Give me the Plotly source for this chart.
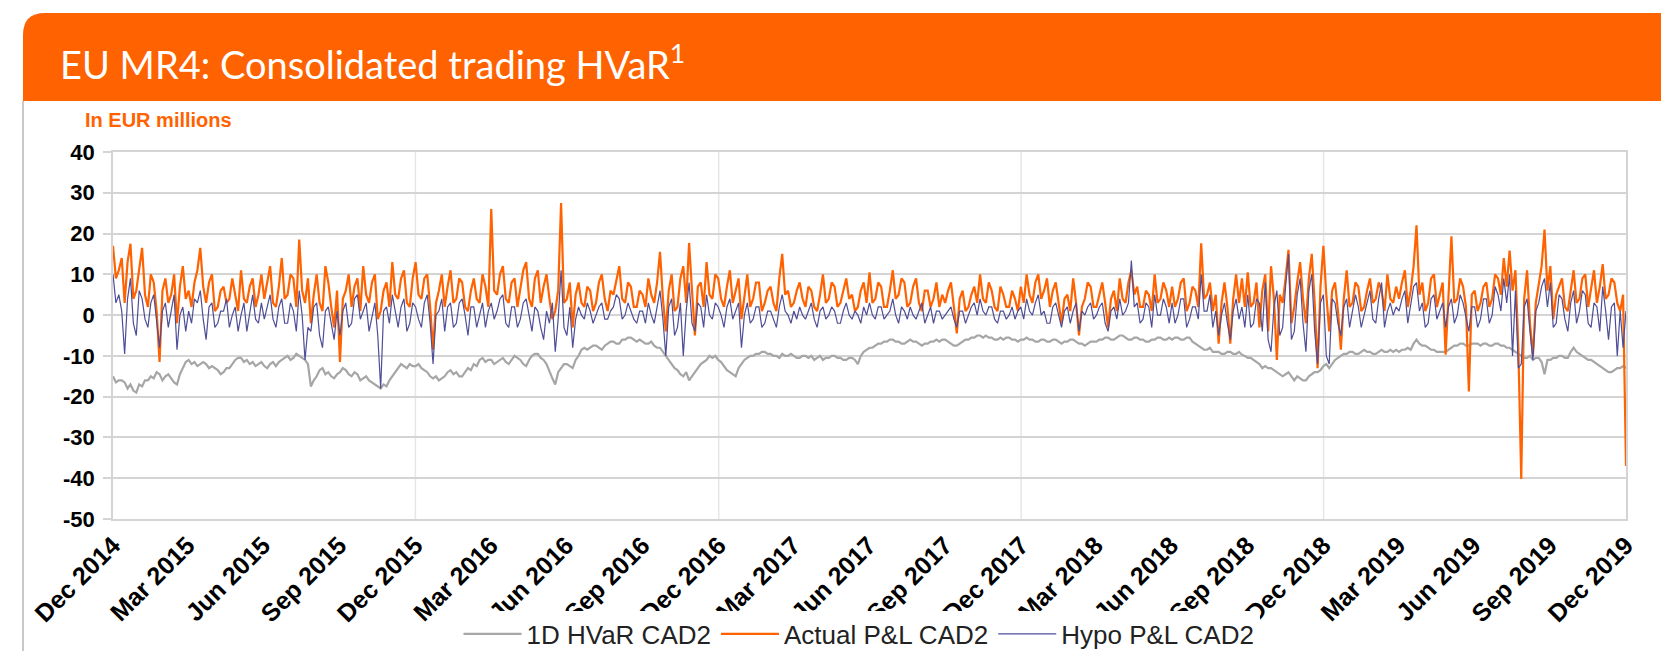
import plotly.graph_objects as go
import pandas as pd

# ---------------- data (twice-weekly readings, Dec 2014 - Dec 2019) ----------------
HVAR = [
    -15, -16.5, -16, -16, -16.5, -18, -17, -18.5, -19, -17, -17.5, -16, -16, -15, -15.5, -14, -14.5, -16, -15, -14.5, -15.5, -16.5, -17, -14.5, -13, -11.5,
    -11, -12, -11.5, -12.5, -12, -11.5, -12, -13, -12.5, -13, -13.5, -14.5, -14, -13, -13, -12, -11, -10.5, -10.5, -11.5, -11, -12, -11.5, -12.5, -12, -11.5,
    -12.5, -13, -12, -11.5, -12.5, -11.5, -11, -10.5, -10, -11, -10.5, -9.5, -10, -10.5, -11, -12, -17.5, -16, -15, -13.5, -13, -14.5, -14, -15, -15.5, -14.5,
    -14, -13, -13.5, -14.5, -15, -14, -14.5, -16, -15.5, -15, -16, -16.5, -17, -17.5, -18, -17, -17.5, -16, -15, -14, -13, -12, -12.5, -13, -12, -12.5,
    -12.5, -12, -13, -13.5, -14, -15, -15.5, -15, -16, -15.5, -15, -14, -13.5, -14.5, -14, -15, -15, -14, -13, -13.5, -12, -12.5, -11, -10.5, -11.5, -11,
    -11, -12, -11.5, -11, -10.5, -11.5, -12, -11, -10, -10.5, -11, -12, -12.5, -11, -10, -9.5, -9.5, -10.5, -11, -12, -14, -15.5, -17, -14, -13, -12,
    -12, -12.5, -13, -11, -10, -8.5, -8, -8.5, -8, -7.5, -7.5, -8, -8.5, -7.5, -7, -6.5, -6.5, -7, -7, -6, -6, -5.5, -5.5, -6, -6.5, -6,
    -6.5, -7, -7, -6.5, -7.5, -8, -8, -9, -10, -11, -12, -13, -13.5, -14.5, -15, -14, -16, -15, -14, -13, -12, -11.5, -11, -10, -10.5, -10,
    -11, -11.5, -12.5, -13.5, -14, -14.5, -15, -13, -12, -11, -10.5, -10, -10, -9.5, -9.5, -9, -9, -9.5, -9.5, -10, -10, -10.5, -9.5, -10, -10, -9.5,
    -10, -10.5, -10.5, -10, -10, -10.5, -10, -11, -10.5, -10, -11, -10.5, -10.5, -10, -10, -10.5, -10.5, -11, -11, -10.5, -10.5, -11, -12, -10, -9, -8.5,
    -8, -8, -7.5, -7, -7, -6.5, -6.5, -6, -6, -6.5, -6.5, -7, -7, -6.5, -6, -6.5, -6.5, -7, -7.5, -7, -7, -6.5, -6.5, -6, -6.5, -6,
    -6, -6.5, -7, -7.5, -7.5, -7, -6.5, -6, -6, -5.5, -5.5, -5, -5, -5.5, -5, -5.5, -5.5, -6, -6, -5.5, -6, -5.5, -5.5, -6, -6, -6.5,
    -6, -6, -5.5, -6, -6, -6.5, -6.5, -6, -6, -6.5, -6.5, -6, -6, -6.5, -7, -6.5, -6.5, -6, -6, -6.5, -7, -7, -7.5, -7, -6.5, -6.5,
    -6.5, -6, -6, -5.5, -5.5, -6, -6, -5.5, -5, -5, -5.5, -6, -6, -5.5, -5.5, -6, -6, -6.5, -6.5, -6, -6, -5.5, -5.5, -6, -6, -5.5,
    -6, -5.5, -5.5, -6, -6, -5.5, -5.5, -6.5, -7, -7.5, -8, -8.5, -8.5, -8, -9, -9, -9, -9.5, -9.5, -9, -9, -9.5, -9.5, -9, -9.7, -10,
    -10.5, -10.5, -11, -11.5, -12, -13, -12.5, -13, -13, -13.5, -14, -14.5, -15, -14.5, -14, -15, -16, -15, -15.5, -16, -16, -15, -14.5, -14, -14, -13.5,
    -12.5, -12, -13, -12, -11, -10.5, -10, -9.5, -9.5, -9, -9, -9.5, -9.5, -9, -8.5, -9, -9, -9.5, -9.5, -9, -8.5, -9, -9, -8.5, -9, -8.5,
    -9, -8.5, -8.5, -8, -8.5, -7, -6, -7, -7.5, -7.5, -8, -8.5, -8.5, -9, -9, -9, -9, -8.5, -8, -7.5, -7.5, -7, -7, -7.5, -7.5, -7,
    -7, -7, -7.5, -7, -7, -7.5, -7.5, -7, -7, -7.5, -7.5, -8, -8, -8.5, -9, -9.5, -10, -10.5, -10.5, -10, -11, -10.5, -10.5, -11.5, -14.5, -11,
    -11, -10.5, -10.5, -10, -10, -10.5, -10.5, -9, -8, -9, -9.5, -10, -10.5, -11, -11, -11.5, -12, -12.5, -13, -13.5, -14, -14, -13.5, -13, -13, -12.5,
    -13,
]

ACTUAL = [
    17, 9, 11, 14, 3, 13, 17.5, 4, 6, 12, 16.5, 5, 2, 10, 8, 1, -11.5, 6, 9, 3, 5, 10, -2, 7, 12, 4,
    6, 2, 8, 11, 16.5, 7, 3, 8, 10, 1, 2, 6, 7, 3, 4, 9, 5, 1, 11, 4, 3, 7, 9, 2, 5, 10,
    4, 8, 12, 3, 2, 7, 14, 4, 5, 10, 9, 2, 18.5, 6, 3, 9, -2, 5, 10, 3, 1, 12, 8, 2, -3, 6,
    -11.5, 4, 6, 10, 2, 7, 9, 1, 12, 5, 3, 8, 10, -1, 1, 6, 8, 2, 13, 5, 4, 9, 11, 3, 2, 9,
    13, 5, 4, 9, 10, 2, -8.5, 3, 6, 10, 2, 7, 11, 3, 4, 9, 8, 2, 1, 6, 9, 4, 3, 10, 7, 2,
    26, 6, 5, 10, 12, 4, 3, 8, 9, 2, 6, 11, 13, 4, 2, 9, 11, 3, 7, 10, 4, -1, 1, 6, 27.5, 3,
    4, 8, -3, 5, 8, 3, 2, 7, 6, 1, 3, 8, 10, 4, 1, 6, 5, 9, 12, 4, 3, 8, 7, 2, 2, 6,
    5, 2, 9, 5, 3, 8, 15.5, 4, -4, 6, 10, 1, 2, 9, 12, 3, 17.7, 6, -5, 7, 8, 2, 13, 5, 4, 10,
    9, 4, 2, 7, 11, 3, 6, 9, -1, 5, 10, 2, 4, 8, 8, 1, 3, 6, 7, 3, 1, 9, 15, 5, 6, 2,
    3, 6, 8, 4, 2, 7, 6, 2, 1, 5, 10, 3, 4, 8, 7, 2, 3, 6, 9, 4, 5, 1, 2, 6, 8, 3,
    10.5, 3, 4, 8, 7, 2, 2, 6, 11, 4, 5, 9, 8, 2, 3, 7, 9, 3, 1, 6, 6, 2, 4, 8, 2, 5,
    3, 6, 8, 2, -4.5, 4, 6, 1, 2, 5, 7, 3, 10, 4, 3, 8, 6, 2, 1, 7, 5, 2, 2, 6, 4, 1,
    7, 3, 10, 5, 3, 8, 10, 4, 6, 9, 2, 6, 8, 3, -2, 4, 5, 1, 9, 3, -5, 2, 4, 8, 7, 2,
    2, 5, 8, 3, -3, 4, 6, 1, 9, 4, 3, 8, 11, 5, 7, 2, 2, 6, 5, 1, 10, 3, 4, 8, 6, 2,
    7, 2, 4, 8, 9, 1, 3, 7, 6, 2, 17.6, 4, 5, 8, 1, 5, -7, 3, 8, 2, -7, 4, 10, 3, 9, 2,
    10.5, 2, 3, 8, -3, 6, 10, -4, 12, 4, -11, 5, 3, 9, 16, -2, 2, 8, 13, 4, -2, 9, 15, 3, -13, 7,
    17, 5, -4, 6, 8, 1, -8.5, 4, 11, 2, 3, 8, 7, 1, 2, 6, 9, 3, 4, 8, 6, 1, 10, 4, 3, 7,
    4, 8, 11, 2, 6, 12, 22, 5, 8, 1, 3, 9, 10, 2, 5, 8, -9.7, 4, 19.3, 3, 4, 9, 7, 2, -18.7, 5,
    6, 1, 3, 7, 8, 2, 4, 10, 9, 5, 14, 7, 15.8, 6, 11, -8, -40.2, 4, 11, -2, -10, 3, 8, 12, 21, 6,
    12, -1, 5, 7, 9, 2, 1, 6, 11, 3, 4, 9, 10, 2, 6, 11, 3, 7, 12.5, 4, 5, 9, 8, 3, 1, 5,
    -37,
]

HYPO = [
    10, 3, 5, 1, -9.5, 4, 9, -2, -5, 6, 4, -1, -3, 3, 5, -2, -8, 1, 3, -3, 1, 5, -8.5, 0, 2, -4,
    1, -2, 4, 3, 6, -1, -6, 2, 3, -3, -2, 1, 1, 4, -3, 0, 2, -4, 0, 3, -4, 1, 5, -1, -2, 3,
    -1, 2, 5, -1, -3, 2, 4, -2, -2, 3, 1, -4, 6, 0, -11, -3, -4, 2, 3, -5, -8, 1, 2, -2, -6, 1,
    -5, 1, 3, -3, -2, 4, 5, -1, 1, 3, -4, 0, 3, -5, -18, 1, 2, -2, 5, 1, -3, 2, 4, -4, -2, 3,
    2, -1, -3, 3, 5, -2, -12, 0, 1, 4, -4, 2, 3, -3, -2, 3, 4, 0, -5, 2, 2, -3, 0, 3, -3, 1,
    3, -1, 1, 4, 5, -2, -3, 2, 2, -3, -1, 3, 4, 0, -4, 2, 1, -3, -6, 1, -2, 3, -9, -1, 11, -3,
    -5, 2, -8, -1, 2, 0, -1, 3, 1, -2, 0, 2, 3, -1, -1, 1, 2, 5, 4, -1, 0, 3, 1, -1, -2, 1,
    1, -2, 3, 0, -2, 2, 6, -1, -10, 2, 4, -5, -3, 3, -10, 1, 8, -2, -4, 3, 2, -3, 5, 0, -1, 3,
    2, 0, -3, 2, 4, -1, 1, 3, -8, 0, 3, -2, -1, 2, 2, -3, -2, 1, 1, -1, -3, 2, 5, 1, 0, -2,
    1, -1, 2, 0, -1, 1, 3, -1, -3, 1, 2, -1, 0, 2, 1, -2, -2, 1, 3, 0, -1, 1, 0, -2, 2, 0,
    3, 0, -1, 2, 2, -1, 0, 1, 4, 0, -2, 2, 1, -1, 2, 0, -1, 1, 3, -2, 0, 2, -2, 1, 1, -1,
    0, 1, 2, -1, -3, 1, 1, -2, 0, 2, 3, 0, 4, 1, 0, 2, 2, -1, -2, 1, 1, -1, 0, 2, -1, 1,
    2, -1, 4, 1, 0, 3, 5, 0, 1, -2, -2, 2, 3, 0, -3, 1, 2, -2, 1, 3, -4, 1, 0, 2, 3, -1,
    0, 2, 3, -2, -4, 1, 2, -1, 4, 0, 1, 3, 13.4, 2, 3, -2, -1, 3, 2, -3, 5, 0, 0, 4, 2, -2,
    3, -2, 0, 4, 4, -3, -1, 2, 2, -1, 10, 1, 1, 5, -3, 1, -5, 0, 3, -2, -6, 1, 4, -1, 2, -3,
    5, -3, -2, 4, 3, -4, 8, -6, -9, 2, 6, -5, -3, 7, 15, -6, -4, 5, 9, -2, -9, 6, 10, -4, -12, 3,
    5, -10, -12, 4, 3, -2, -5, 2, 4, -3, 1, 5, 2, -3, 0, 3, 6, -1, -2, 4, 8, -3, 1, 3, 0, 2,
    1, 4, 6, -2, 2, 7, 8, 1, 3, -3, -2, 4, 5, -1, 1, 3, -3, 2, 4, -2, 0, 5, 3, -1, -4, 2,
    2, -3, -1, 4, 4, -2, 0, 7, 5, 1, 9, 3, 10, -10, 6, -13, -12, 2, 4, -4, -11, 1, 3, 7, 9, 2,
    8, -3, -2, 5, 4, -1, -4, 3, 6, -2, 1, 6, 5, -2, -3, 3, 2, -4, 7, 1, -6, 2, 3, -10, 1, -8,
    1,
]

START, END = "2014-12-31", "2019-12-31"
TICK_LABELS = [
    "Dec 2014", "Mar 2015", "Jun 2015", "Sep 2015", "Dec 2015", "Mar 2016",
    "Jun 2016", "Sep 2016", "Dec 2016", "Mar 2017", "Jun 2017", "Sep 2017",
    "Dec 2017", "Mar 2018", "Jun 2018", "Sep 2018", "Dec 2018", "Mar 2019",
    "Jun 2019", "Sep 2019", "Dec 2019",
]
Y_TICKS = [40, 30, 20, 10, 0, -10, -20, -30, -40, -50]
SERIES_NAMES = ["1D HVaR CAD2", "Actual P&L CAD2", "Hypo P&L CAD2"]

tick_dates = pd.date_range(START, END, freq="QE")
year_grid = [d for d in tick_dates if d.month == 12][1:-1]

def dates_for(series):
    return pd.date_range(START, END, periods=len(series))

# ---------------- layout geometry ----------------
W, H = 1661, 651
PL, PR, PT, PB = 113, 1626, 152, 519
def px(x):
    return (x - PL) / (PR - PL)
def py(y):
    return (PB - y) / (PB - PT)

ORANGE = "#FF6200"
GREY = "#A6A6A6"
BLUE = "#4E4D97"
GRID = "#D4D4D4"

fig = go.Figure()
fig.add_trace(go.Scatter(x=dates_for(HVAR), y=HVAR, name=SERIES_NAMES[0], mode="lines",
                         line=dict(color=GREY, width=2.2)))
fig.add_trace(go.Scatter(x=dates_for(ACTUAL), y=ACTUAL, name=SERIES_NAMES[1], mode="lines",
                         line=dict(color=ORANGE, width=2.2)))
fig.add_trace(go.Scatter(x=dates_for(HYPO), y=HYPO, name=SERIES_NAMES[2], mode="lines",
                         line=dict(color=BLUE, width=1.2)))

shapes = []
header = (f"M {px(23)},{py(101)} L {px(23)},{py(35)} Q {px(23)},{py(13)} {px(45)},{py(13)} "
          f"L {px(1661)},{py(13)} L {px(1661)},{py(101)} Z")
shapes.append(dict(type="path", xref="paper", yref="paper", path=header,
                   fillcolor=ORANGE, line=dict(width=0), layer="above"))
shapes.append(dict(type="line", xref="paper", yref="paper", x0=px(23), x1=px(23),
                   y0=py(101), y1=py(651), line=dict(color="#C8C8C8", width=2)))
for d in year_grid:
    shapes.append(dict(type="line", xref="x", yref="paper", x0=d, x1=d, y0=0, y1=1,
                       line=dict(color="#E6E6E6", width=1.5), layer="below"))

annotations = [
    dict(text="EU MR4: Consolidated trading HVaR<sup>1</sup>", xref="paper", yref="paper",
         x=px(58), y=py(62), xanchor="left", yanchor="middle", showarrow=False,
         font=dict(family="Lato, Open Sans, sans-serif", size=38, color="white")),
    dict(text="<b>In EUR millions</b>", xref="paper", yref="paper",
         x=px(83), y=py(120), xanchor="left", yanchor="middle", showarrow=False,
         font=dict(family="Liberation Sans Narrow, Liberation Sans, Arial", size=20, color=ORANGE)),
]

fig.update_layout(
    width=W, height=H,
    margin=dict(l=PL, r=W - PR, t=PT, b=H - PB, autoexpand=False),
    paper_bgcolor="white", plot_bgcolor="white",
    shapes=shapes, annotations=annotations,
    showlegend=True,
    legend=dict(orientation="h", x=px(859), xanchor="center", y=py(634), yanchor="middle",
                bgcolor="white", font=dict(family="Liberation Sans, Arial", size=26, color="#222222"),
                itemwidth=58, tracegroupgap=0),
)
fig.update_xaxes(
    type="date", range=[START, END], tickvals=tick_dates, ticktext=TICK_LABELS,
    tickangle=-45, showgrid=False, zeroline=False, ticks="", automargin=False,
    showline=True, mirror=True, linecolor=GRID, linewidth=1.5,
    tickfont=dict(family="Liberation Sans, Arial", size=25, color="black", weight="bold"),
)
fig.update_yaxes(
    range=[-50, 40], tickvals=Y_TICKS, ticktext=[str(v) for v in Y_TICKS],
    showgrid=True, gridcolor=GRID, automargin=False,
    gridwidth=1.5, zeroline=False, ticks="outside", ticklen=8, tickcolor=GRID, tickwidth=1.5,
    ticklabelstandoff=4,
    showline=True, mirror=True, linecolor=GRID, linewidth=1.5,
    tickfont=dict(family="Liberation Sans, Arial", size=22, color="black", weight="bold"),
)

fig.write_html(
    "out.html",
    config={"displayModeBar": False},
    post_script="document.body.style.margin='0px';document.body.style.overflow='hidden';",
)
